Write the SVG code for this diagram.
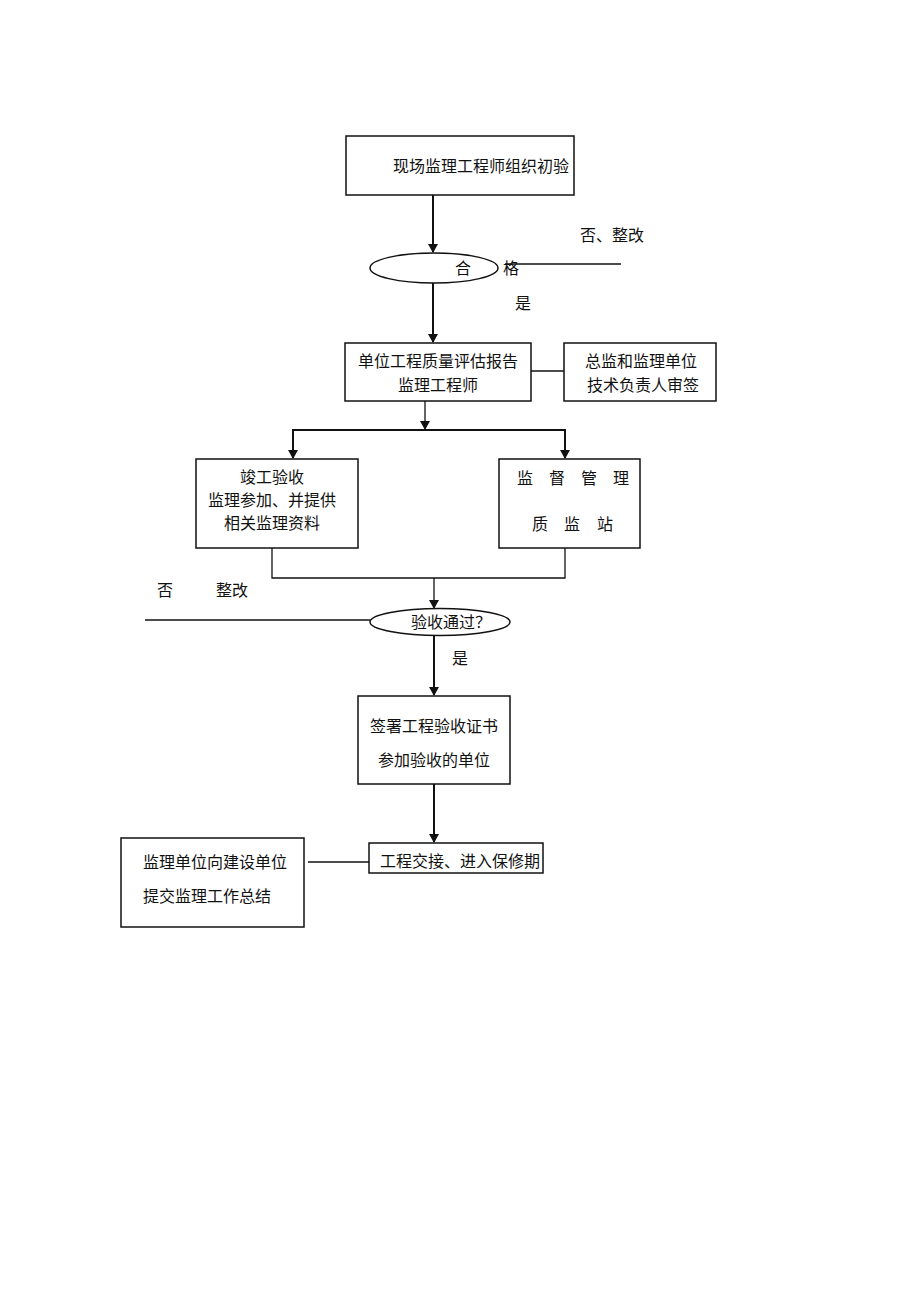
<svg xmlns="http://www.w3.org/2000/svg" width="920" height="1302" viewBox="0 0 920 1302">
<style>
text{font-family:"Liberation Serif","Noto Sans CJK SC",serif;font-size:16px;fill:#111}
.box{fill:#fff;stroke:#111;stroke-width:1.5}
.ln{fill:none;stroke:#111;stroke-width:1.3}
.th{fill:none;stroke:#111;stroke-width:2}
</style>
<defs>
<marker id="ah" markerWidth="10" markerHeight="10" refX="8" refY="5" orient="auto" markerUnits="userSpaceOnUse">
<path d="M0,0 L9,5 L0,10 Z" fill="#111"/>
</marker>
</defs>
<rect width="920" height="1302" fill="#fff"/>
<g id="connectors">
<line class="th" x1="433" y1="195" x2="433" y2="252" marker-end="url(#ah)"/>
<line class="ln" x1="505" y1="264" x2="621" y2="264"/>
<line class="th" x1="433" y1="283" x2="433" y2="342" marker-end="url(#ah)"/>
<line class="ln" x1="531" y1="371" x2="564" y2="371"/>
<line class="ln" x1="425" y1="401" x2="425" y2="429" marker-end="url(#ah)"/>
<polyline class="th" points="293,458 293,430 565,430 565,458"/>
<line class="th" x1="293" y1="440" x2="293" y2="458" marker-end="url(#ah)"/>
<line class="th" x1="565" y1="440" x2="565" y2="458" marker-end="url(#ah)"/>
<polyline class="ln" points="272,548 272,578 565,578 565,548"/>
<line class="ln" x1="434" y1="578" x2="434" y2="608" marker-end="url(#ah)"/>
<line class="ln" x1="145" y1="620" x2="370" y2="620"/>
<line class="th" x1="434" y1="636" x2="434" y2="695" marker-end="url(#ah)"/>
<line class="th" x1="434" y1="784" x2="434" y2="842" marker-end="url(#ah)"/>
<line class="ln" x1="308" y1="862" x2="378" y2="862"/>
</g>
<g id="n1"><rect class="box" x="346" y="136" width="228" height="59"/><text x="393" y="172">现场监理工程师组织初验</text></g>
<g id="n2"><ellipse class="box" cx="434" cy="268" rx="64" ry="15"/><text x="455" y="274">合</text><text x="503" y="274">格</text></g>
<text x="580" y="241">否、整改</text>
<text x="515" y="309">是</text>
<g id="n3"><rect class="box" x="345" y="343" width="186" height="58"/><text x="438" y="367" text-anchor="middle">单位工程质量评估报告</text><text x="438" y="391" text-anchor="middle">监理工程师</text></g>
<g id="n4"><rect class="box" x="564" y="343" width="152" height="58"/><text x="641" y="367" text-anchor="middle">总监和监理单位</text><text x="643" y="391" text-anchor="middle">技术负责人审签</text></g>
<g id="n5"><rect class="box" x="196" y="459" width="162" height="89"/><text x="272" y="483" text-anchor="middle">竣工验收</text><text x="272" y="506" text-anchor="middle">监理参加、并提供</text><text x="272" y="529" text-anchor="middle">相关监理资料</text></g>
<g id="n6"><rect class="box" x="499" y="459" width="141" height="89"/><text x="517 533 549 565 581 597 613" y="484">监 督 管 理</text><text x="532 548 564 580 597" y="530">质 监 站</text></g>
<text x="157" y="596">否</text>
<text x="216" y="596">整改</text>
<g id="n7"><ellipse class="box" cx="440" cy="622" rx="70" ry="13.5"/><text x="411" y="628">验收通过？</text></g>
<text x="452" y="664">是</text>
<g id="n8"><rect class="box" x="358" y="696" width="152" height="88"/><text x="434" y="732" text-anchor="middle">签署工程验收证书</text><text x="434" y="766" text-anchor="middle">参加验收的单位</text></g>
<g id="n9"><rect class="box" x="369" y="843" width="174" height="30"/><text x="380" y="867">工程交接、进入保修期</text></g>
<g id="n10"><rect class="box" x="121" y="838" width="183" height="89"/><text x="143" y="868">监理单位向建设单位</text><text x="143" y="902">提交监理工作总结</text></g>
</svg>
